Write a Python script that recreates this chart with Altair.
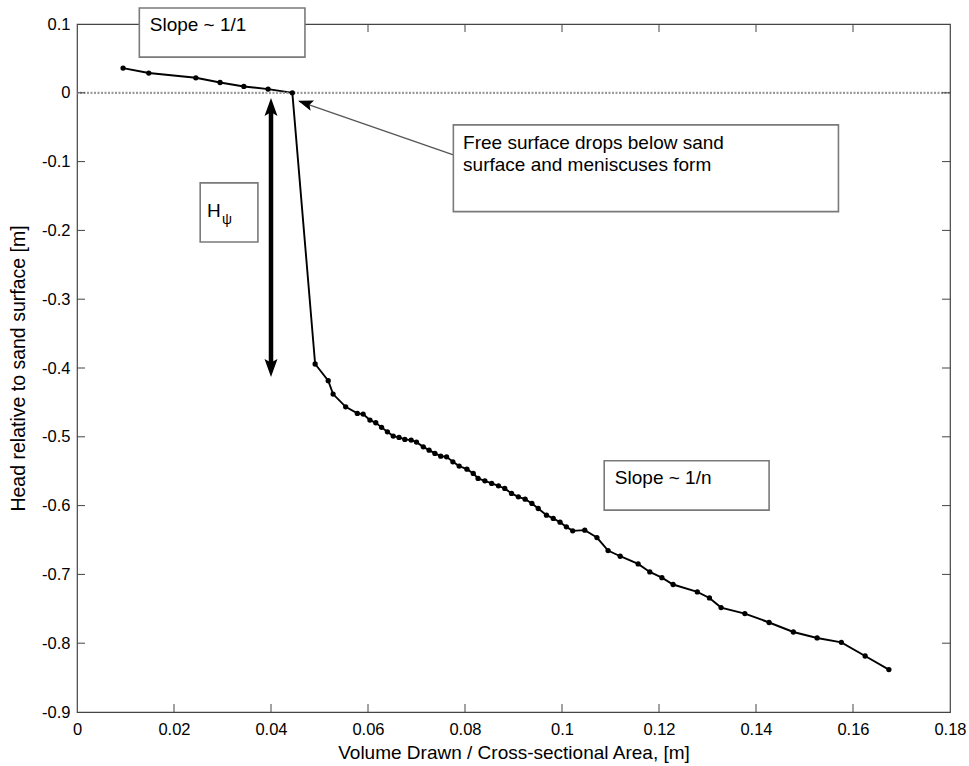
import altair as alt
import pandas as pd

# ---- measured series ----
vol = [0.0095, 0.0148, 0.0245, 0.0295, 0.0344, 0.0394, 0.0444,
       0.0491, 0.0518, 0.0528, 0.0554, 0.0578, 0.0590, 0.0604, 0.0616,
       0.0628, 0.0640, 0.0652, 0.0664, 0.0676, 0.0689, 0.0700, 0.0714,
       0.0726, 0.0738, 0.0750, 0.0762, 0.0775, 0.0788, 0.0804, 0.0817,
       0.0827, 0.0841, 0.0855, 0.0869, 0.0882, 0.0896, 0.0910, 0.0924,
       0.0938, 0.0951, 0.0968, 0.0982, 0.0996, 0.1009, 0.1022, 0.1047,
       0.1072, 0.1095, 0.1120, 0.1157, 0.1181, 0.1206, 0.1229, 0.1279,
       0.1304, 0.1328, 0.1377, 0.1427, 0.1477, 0.1526, 0.1576, 0.1625,
       0.1674]
head = [0.0359, 0.0287, 0.0218, 0.0150, 0.0092, 0.0054, 0.0,
        -0.3942, -0.4185, -0.4379, -0.4564, -0.4660, -0.4670, -0.4757, -0.4796,
        -0.4863, -0.4927, -0.4990, -0.5009, -0.5038, -0.5048, -0.5077, -0.5146,
        -0.5194, -0.5241, -0.5281, -0.5291, -0.5364, -0.5426, -0.5470, -0.5532,
        -0.5605, -0.5640, -0.5678, -0.5713, -0.5751, -0.5823, -0.5873, -0.5906,
        -0.5969, -0.6042, -0.6139, -0.6187, -0.6241, -0.6309, -0.6367, -0.6357,
        -0.6464, -0.6653, -0.6736, -0.6848, -0.6964, -0.7048, -0.7147, -0.7255,
        -0.7342, -0.7482, -0.7569, -0.7699, -0.7837, -0.7924, -0.7987, -0.8186,
        -0.8384]

x_ticks = [0, 0.02, 0.04, 0.06, 0.08, 0.1, 0.12, 0.14, 0.16, 0.18]
y_ticks = [0.1, 0, -0.1, -0.2, -0.3, -0.4, -0.5, -0.6, -0.7, -0.8, -0.9]

# ---- annotations ----
box_x1 = [0.01285, 0.0776, 0.1087, 0.0254]
box_x2 = [0.0470, 0.1570, 0.1427, 0.0373]
box_y1 = [0.1232, -0.0466, -0.5349, -0.1309]
box_y2 = [0.0519, -0.1727, -0.6066, -0.2168]

txt_x = [0.0150, 0.0796, 0.0796, 0.1109, 0.0268]
txt_y = [0.0892, -0.0819, -0.1135, -0.5692, -0.1804]
txt = ["Slope ~ 1/1", "Free surface drops below sand",
       "surface and meniscuses form", "Slope ~ 1/n", "H"]

sub_x = [0.0299]
sub_y = [-0.1906]
sub_t = ["\u03c8"]

# pointer arrow (box -> data point)
ptr_x = [0.0776]
ptr_y = [-0.0902]
ptr_x2 = [0.0458]
ptr_y2 = [-0.0125]

# double arrow H_psi
dbl_x = [0.0400]
dbl_y1 = [-0.025]
dbl_y2 = [-0.395]

head_x = [0.0456, 0.0400, 0.0400]
head_y = [-0.0116, -0.0075, -0.4130]
head_a = [289, 0, 180]
head_s = [900, 1296, 1296]

W, H = 873, 688
FONT = "Liberation Sans"
ARROW = "M0,0 L-0.36,1 L0,0.8 L0.36,1 Z"

xs = alt.Scale(domain=[0, 0.18], nice=False, zero=False)
ys = alt.Scale(domain=[-0.9, 0.1], nice=False, zero=False)

lab_expr = "replace(format(datum.value, '~g'), '\u2212', '-')"

df = pd.DataFrame({"x": vol, "y": head})

line = alt.Chart(df).mark_line(color="black", strokeWidth=1.9).encode(
    x=alt.X("x:Q", scale=xs,
            axis=alt.Axis(values=x_ticks, title="Volume Drawn / Cross-sectional Area, [m]",
                          grid=False, ticks=False, tickSize=0, domain=False,
                          labelExpr=lab_expr, labelFont=FONT, labelFontSize=16.5,
                          labelColor="black", labelPadding=9, labelFlush=False,
                          titleFont=FONT, titleFontSize=19, titleFontWeight="normal",
                          titleColor="black", titleX=W / 2, titleY=46,
                          titleBaseline="alphabetic", titleAlign="center")),
    y=alt.Y("y:Q", scale=ys,
            axis=alt.Axis(values=y_ticks, title="Head relative to sand surface [m]",
                          grid=False, ticks=False, tickSize=0, domain=False,
                          labelExpr=lab_expr, labelFont=FONT, labelFontSize=16.5,
                          labelColor="black", labelPadding=7, labelFlush=False,
                          titleFont=FONT, titleFontSize=19.5, titleFontWeight="normal",
                          titleColor="black", titleX=-59, titleY=H / 2,
                          titleAngle=270, titleBaseline="middle", titleAlign="center")),
)
pts = alt.Chart(df).mark_circle(color="black", size=28, opacity=1).encode(
    x=alt.X("x:Q", scale=xs), y=alt.Y("y:Q", scale=ys))

zero = alt.Chart(pd.DataFrame({"y": [0.0]})).mark_rule(
    color="#9a9a9a", strokeWidth=2.2, strokeDash=[2, 1.5]).encode(
    y=alt.Y("y:Q", scale=ys))

boxes = alt.Chart(pd.DataFrame({"x": box_x1, "x2": box_x2, "y": box_y1, "y2": box_y2})).mark_rect(
    fill="white", stroke="#7a7a7a", strokeWidth=1.6).encode(
    x=alt.X("x:Q", scale=xs), x2="x2:Q", y=alt.Y("y:Q", scale=ys), y2="y2:Q")

texts = alt.Chart(pd.DataFrame({"x": txt_x, "y": txt_y, "t": txt})).mark_text(
    align="left", baseline="alphabetic", font=FONT, fontSize=19, color="black").encode(
    x=alt.X("x:Q", scale=xs), y=alt.Y("y:Q", scale=ys), text="t:N")

subs = alt.Chart(pd.DataFrame({"x": sub_x, "y": sub_y, "t": sub_t})).mark_text(
    align="left", baseline="alphabetic", font=FONT, fontSize=14, color="black").encode(
    x=alt.X("x:Q", scale=xs), y=alt.Y("y:Q", scale=ys), text="t:N")

ptr = alt.Chart(pd.DataFrame({"x": ptr_x, "y": ptr_y, "x2": ptr_x2, "y2": ptr_y2})).mark_rule(
    color="#555555", strokeWidth=1.3).encode(
    x=alt.X("x:Q", scale=xs), y=alt.Y("y:Q", scale=ys), x2="x2:Q", y2="y2:Q")

dbl = alt.Chart(pd.DataFrame({"x": dbl_x, "y": dbl_y1, "y2": dbl_y2})).mark_rule(
    color="black", strokeWidth=4.5).encode(
    x=alt.X("x:Q", scale=xs), y=alt.Y("y:Q", scale=ys), y2="y2:Q")

heads = alt.Chart(pd.DataFrame({"x": head_x, "y": head_y, "a": head_a, "s": head_s})).mark_point(
    shape=ARROW, filled=True, fill="black", strokeWidth=0, opacity=1).encode(
    x=alt.X("x:Q", scale=xs), y=alt.Y("y:Q", scale=ys),
    angle=alt.Angle("a:Q", scale=None), size=alt.Size("s:Q", scale=None))

x_in = pd.DataFrame({"x": x_ticks[1:-1]})
y_in = pd.DataFrame({"y": y_ticks[1:-1]})
tick_c = "#444444"
tb = alt.Chart(x_in).mark_rule(color=tick_c).encode(
    x=alt.X("x:Q", scale=xs), y=alt.value(H), y2=alt.value(H - 8))
tt = alt.Chart(x_in).mark_rule(color=tick_c).encode(
    x=alt.X("x:Q", scale=xs), y=alt.value(0), y2=alt.value(8))
tl = alt.Chart(y_in).mark_rule(color=tick_c).encode(
    y=alt.Y("y:Q", scale=ys), x=alt.value(0), x2=alt.value(8))
tr = alt.Chart(y_in).mark_rule(color=tick_c).encode(
    y=alt.Y("y:Q", scale=ys), x=alt.value(W), x2=alt.value(W - 8))

chart = alt.layer(
    line, zero, tb, tt, tl, tr, pts, ptr, dbl, heads, boxes, texts, subs
).properties(
    width=W, height=H,
    autosize=alt.AutoSizeParams(type="none"),
    padding={"left": 77, "top": 24, "right": 19, "bottom": 54},
    background="white",
).configure_view(stroke="#444444", strokeWidth=1.2)

chart.save("out.html", embed_options={"renderer": "svg", "actions": False})
